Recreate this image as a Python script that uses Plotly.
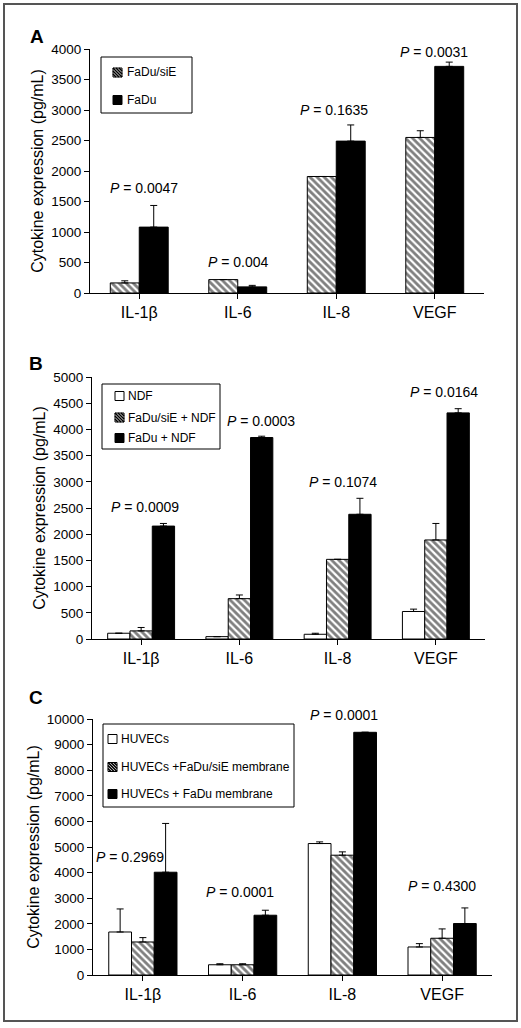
import plotly.graph_objects as go

W, H = 521, 1028
OFF = 0  # page body margin removed by post_script below
FONT = "Liberation Sans, Arial, sans-serif"

categories = ["IL-1β", "IL-6", "IL-8", "VEGF"]

# Panel A
a_names = ["FaDu/siE", "FaDu"]
a_siE = [165, 220, 1910, 2550]
a_siE_err = [35, 0, 0, 110]
a_fadu = [1080, 100, 2490, 3715]
a_fadu_err = [355, 25, 265, 70]
a_pvals = ["0.0047", "0.004", "0.1635", "0.0031"]
a_p_pos = [(0.05, 1720), (1.01, 510), (1.98, 3000), (2.99, 3950)]

# Panel B
b_names = ["NDF", "FaDu/siE + NDF", "FaDu + NDF"]
b_ndf = [110, 45, 90, 525]
b_ndf_err = [0, 0, 20, 45]
b_siE = [155, 770, 1520, 1890]
b_siE_err = [65, 70, 0, 315]
b_fadu = [2155, 3845, 2380, 4315]
b_fadu_err = [50, 25, 305, 80]
b_pvals = ["0.0009", "0.0003", "0.1074", "0.0164"]
b_p_pos = [(0.04, 2520), (1.22, 4160), (2.05, 3000), (3.08, 4715)]

# Panel C
c_names = ["HUVECs", "HUVECs +FaDu/siE membrane", "HUVECs + FaDu membrane"]
c_huvec = [1680, 400, 5135, 1095]
c_huvec_err = [900, 40, 65, 130]
c_siE = [1290, 400, 4680, 1435]
c_siE_err = [170, 40, 130, 365]
c_fadu = [4015, 2335, 9480, 2010]
c_fadu_err = [1905, 195, 0, 610]
c_pvals = ["0.2969", "0.0001", "0.0001", "0.4300"]
c_p_pos = [(-0.13, 4610), (0.97, 3240), (2.02, 9800), (3.0, 3480)]
c_p_shift = [0, 0, 9, 0]

xidx = list(range(len(categories)))

HATCH = dict(shape="\\", fgcolor="black", bgcolor="white", size=5, solidity=0.55)


def bar(name, vals, errs, style, width, offset, ax):
    marker = dict(color="black" if style == "black" else "white", line=dict(color="black", width=1))
    if style == "hatch":
        marker["pattern"] = HATCH
    return go.Bar(
        x=xidx, y=vals, name=name, marker=marker,
        width=width, offset=offset, showlegend=False,
        error_y=dict(type="data", array=errs, arrayminus=[0] * len(errs), symmetric=False,
                     color="black", thickness=1, width=3.5),
        xaxis="x" + ax, yaxis="y" + ax,
    )


fig = go.Figure()
wa = 0.294
fig.add_trace(bar(a_names[0], a_siE, a_siE_err, "hatch", wa, -wa, ""))
fig.add_trace(bar(a_names[1], a_fadu, a_fadu_err, "black", wa, 0, ""))

wb = 0.227
fig.add_trace(bar(b_names[0], b_ndf, b_ndf_err, "white", wb, -1.5 * wb, "2"))
fig.add_trace(bar(b_names[1], b_siE, b_siE_err, "hatch", wb, -0.5 * wb, "2"))
fig.add_trace(bar(b_names[2], b_fadu, b_fadu_err, "black", wb, 0.5 * wb, "2"))

wc = 0.228
fig.add_trace(bar(c_names[0], c_huvec, c_huvec_err, "white", wc, -1.5 * wc, "3"))
fig.add_trace(bar(c_names[1], c_siE, c_siE_err, "hatch", wc, -0.5 * wc, "3"))
fig.add_trace(bar(c_names[2], c_fadu, c_fadu_err, "black", wc, 0.5 * wc, "3"))


def px_x(p):
    return (p - OFF) / W


def px_y(p):
    return 1 - (p - OFF) / H


def xaxis(x0, x1, anchor):
    return dict(domain=[px_x(x0), px_x(x1)], range=[-0.5, 3.5], anchor=anchor,
                tickmode="array", tickvals=xidx, ticktext=categories, tickson="boundaries",
                ticks="outside", ticklen=5, tickcolor="black", showline=True, linecolor="black",
                linewidth=1, showgrid=False, zeroline=False, automargin=False,
                tickfont=dict(family=FONT, size=16, color="black"))


def yaxis(top, bottom, rng, dtick, anchor):
    return dict(domain=[px_y(bottom), px_y(top)], range=rng, dtick=dtick, anchor=anchor,
                tickformat="d",
                ticks="outside", ticklen=5, tickcolor="black", showline=True, linecolor="black",
                linewidth=1, showgrid=False, zeroline=False, automargin=False,
                tickfont=dict(family=FONT, size=13.5, color="black"),
                title=dict(text="Cytokine expression (pg/mL)", standoff=3,
                           font=dict(family=FONT, size=16, color="black")))


annotations = []
shapes = []
for ref, pvals, pos, shifts in [("", a_pvals, a_p_pos, [0] * 4), ("2", b_pvals, b_p_pos, [0] * 4),
                                ("3", c_pvals, c_p_pos, c_p_shift)]:
    for pv, (px, py), sh in zip(pvals, pos, shifts):
        annotations.append(dict(text="<i>P</i> = " + pv, x=px, y=py, xref="x" + ref, yref="y" + ref,
                                yshift=sh, showarrow=False, xanchor="center", yanchor="middle",
                                font=dict(family=FONT, size=14, color="black")))
for lab, (lx, ly) in zip(["A", "B", "C"], [(37, 37), (36, 363), (36, 697)]):
    annotations.append(dict(text="<b>" + lab + "</b>", x=px_x(lx), y=px_y(ly), xref="paper", yref="paper",
                            showarrow=False, xanchor="center", yanchor="middle",
                            font=dict(family=FONT, size=19, color="black")))


# Legends (box, swatch and label for each series)
def add_legend(box, sw_x, txt_x, rows, names, styles):
    bx0, by0, bx1, by1 = box
    shapes.append(dict(type="rect", xref="paper", yref="paper", x0=px_x(bx0), x1=px_x(bx1),
                       y0=px_y(by1), y1=px_y(by0), line=dict(color="black", width=1),
                       fillcolor="white", layer="above"))
    s = 9
    for name, style, yc in zip(names, styles, rows):
        x0, x1 = sw_x, sw_x + s
        y0, y1 = yc - s / 2, yc + s / 2
        shapes.append(dict(type="rect", xref="paper", yref="paper", x0=px_x(x0), x1=px_x(x1),
                           y0=px_y(y1), y1=px_y(y0), line=dict(color="black", width=1),
                           fillcolor="black" if style == "black" else "white", layer="above"))
        if style == "hatch":
            segs = []
            for d in [-6, -3, 0, 3, 6]:
                ax_, ay_ = x0 + d, y0
                bx_, by_ = x0 + d + s, y1
                if ax_ < x0:
                    ay_ += x0 - ax_
                    ax_ = x0
                if bx_ > x1:
                    by_ -= bx_ - x1
                    bx_ = x1
                if ay_ < by_:
                    segs.append("M%.5f,%.5f L%.5f,%.5f" % (px_x(ax_), px_y(ay_), px_x(bx_), px_y(by_)))
            shapes.append(dict(type="path", xref="paper", yref="paper", path=" ".join(segs),
                               line=dict(color="black", width=1.6), layer="above"))
        annotations.append(dict(text=name, x=px_x(txt_x), y=px_y(yc), xref="paper", yref="paper",
                                showarrow=False, xanchor="left", yanchor="middle",
                                font=dict(family=FONT, size=12, color="black")))


add_legend((101, 57, 192, 113), 113, 125, [72.5, 100], a_names, ["hatch", "black"])
add_legend((102, 384, 220, 449), 115, 126, [396, 417.5, 438], b_names, ["white", "hatch", "black"])
add_legend((103, 724, 294, 807), 108, 119, [739, 767, 794], c_names, ["white", "hatch", "black"])

shapes.append(dict(type="rect", xref="paper", yref="paper", x0=px_x(4), x1=px_x(517),
                   y0=px_y(1021), y1=px_y(4), line=dict(color="#555555", width=2)))

fig.update_layout(
    width=W, height=H, margin=dict(l=0, r=0, t=0, b=0),
    paper_bgcolor="white", plot_bgcolor="white", showlegend=False,
    xaxis=xaxis(90, 484, "y"), yaxis=yaxis(49, 293, [0, 4000], 500, "x"),
    xaxis2=xaxis(92, 485, "y2"), yaxis2=yaxis(377, 639, [0, 5000], 500, "x2"),
    xaxis3=xaxis(93, 492, "y3"), yaxis3=yaxis(719, 975, [0, 10000], 1000, "x3"),
    annotations=annotations,
    shapes=shapes,
)

fig.write_html("out.html", config={"displayModeBar": False},
               post_script="document.body.style.margin='0';document.body.style.overflow='hidden';")
